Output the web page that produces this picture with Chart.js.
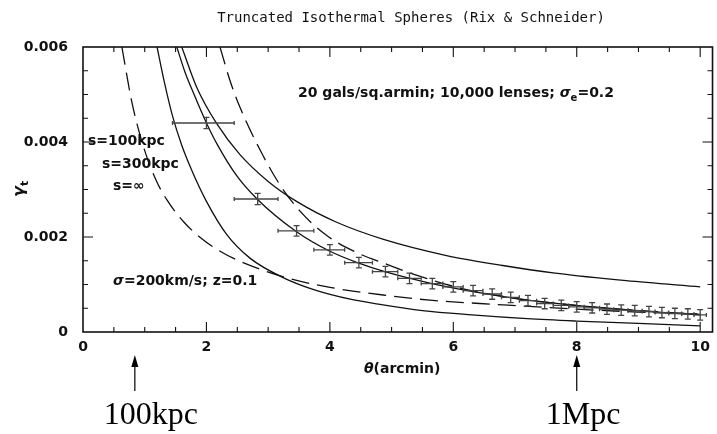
<!DOCTYPE html>
<html>
<head>
<meta charset="utf-8">
<script src="https://cdn.jsdelivr.net/npm/chart.js@4.4.0/dist/chart.umd.min.js"></script>
<style>
  body { margin: 0; background: #fff; }
  #wrap { width: 717px; height: 434px; }
</style>
</head>
<body>
<div id="wrap"><canvas id="shearChart" width="717" height="434"></canvas></div>
<script>
// binned tangential shear, theta in arcmin
const binTheta = [2.00, 2.83, 3.46, 4.00, 4.47, 4.90, 5.29, 5.66, 6.00, 6.32, 6.63, 6.93, 7.21,
                  7.48, 7.75, 8.00, 8.25, 8.49, 8.72, 8.94, 9.17, 9.38, 9.59, 9.80, 10.00];
const binLo = [1.45, 2.45, 3.16, 3.74, 4.24, 4.69, 5.10, 5.48, 5.83, 6.16, 6.48, 6.78, 7.07,
               7.35, 7.62, 7.87, 8.12, 8.37, 8.60, 8.83, 9.06, 9.27, 9.49, 9.70, 9.90];
const binHi = [2.45, 3.16, 3.74, 4.24, 4.69, 5.10, 5.48, 5.83, 6.16, 6.48, 6.78, 7.07, 7.35,
               7.62, 7.87, 8.12, 8.37, 8.60, 8.83, 9.06, 9.27, 9.49, 9.70, 9.90, 10.10];
const binGamma = [0.00440, 0.00280, 0.00213, 0.00173, 0.00146, 0.00127, 0.00113, 0.00102, 0.00095,
                  0.00087, 0.00080, 0.00073, 0.00066, 0.00060, 0.00056, 0.00053, 0.00051, 0.00048,
                  0.00046, 0.00045, 0.00043, 0.00041, 0.00039, 0.00038, 0.00036];
const binErr = [0.00012, 0.00012, 0.00011, 0.00011, 0.00011, 0.00011, 0.00011, 0.00011, 0.00011,
                0.00011, 0.00011, 0.00011, 0.00011, 0.00011, 0.00011, 0.00011, 0.00011, 0.00011,
                0.00011, 0.00011, 0.00011, 0.00011, 0.00011, 0.00011, 0.00011];

// model curves [theta, gamma]
const solidInf = [[1.60, 0.00600], [1.84, 0.00516], [2.17, 0.00438], [2.54, 0.00374], [3.00, 0.00317],
                  [3.46, 0.00275], [4.11, 0.00231], [4.87, 0.00195], [5.89, 0.00161], [6.80, 0.00140],
                  [7.65, 0.00124], [8.80, 0.00108], [10.00, 0.00095]];
const solid300 = [[1.52, 0.00600], [1.65, 0.00548], [1.79, 0.00503], [2.00, 0.00440], [2.17, 0.00396],
                  [2.49, 0.00329], [2.82, 0.00280], [3.46, 0.00211], [4.00, 0.00170], [4.47, 0.00145],
                  [4.89, 0.00127], [5.62, 0.00103], [6.32, 0.00085], [7.00, 0.00071], [7.75, 0.00059],
                  [8.50, 0.00050], [9.20, 0.00043], [10.00, 0.00036]];
const solid100 = [[1.20, 0.00600], [1.32, 0.00525], [1.45, 0.00455], [1.60, 0.00393], [1.76, 0.00341],
                  [2.00, 0.00275], [2.33, 0.00205], [2.71, 0.00155], [3.25, 0.00114], [3.79, 0.00087],
                  [4.33, 0.00069], [4.81, 0.00058], [5.50, 0.00045], [6.30, 0.00036], [7.20, 0.00028],
                  [8.00, 0.00023], [9.00, 0.00018], [10.00, 0.00013]];
const dashLow = [[0.63, 0.00600], [0.79, 0.00485], [0.98, 0.00390], [1.19, 0.00318], [1.36, 0.00278],
                 [1.63, 0.00232], [1.90, 0.00199], [2.17, 0.00174], [2.49, 0.00152], [3.25, 0.00116],
                 [4.00, 0.00094], [4.98, 0.00076], [5.62, 0.00067], [6.43, 0.00060], [7.08, 0.00055],
                 [8.00, 0.00048], [9.00, 0.00042], [10.00, 0.00038]];
const dashHigh = [[2.22, 0.00600], [2.38, 0.00530], [2.54, 0.00474], [2.87, 0.00383], [3.19, 0.00310],
                  [3.52, 0.00254], [3.95, 0.00203], [4.49, 0.00164], [4.89, 0.00144], [5.35, 0.00122],
                  [6.16, 0.00091], [7.00, 0.00071], [8.00, 0.00056], [9.00, 0.00045], [10.00, 0.00037]];

const xTicks = [0, 2, 4, 6, 8, 10];
const xTickLabels = ['0', '2', '4', '6', '8', '10'];
const yTicks = [0, 0.002, 0.004, 0.006];
const yTickLabels = ['0', '0.002', '0.004', '0.006'];

// physical scale markers below the axis
const scaleMarks = [{ text: '100kpc', theta: 0.84 }, { text: '1Mpc', theta: 8.0 }];

const INK = '#111';
const labelFont = '"DejaVu Sans", sans-serif';

function curve(points, dashed) {
  return {
    data: points.map(p => ({ x: p[0], y: p[1] })),
    showLine: true,
    borderColor: INK,
    borderWidth: 1.3,
    borderDash: dashed ? [18, 8] : [],
    pointRadius: 0,
    cubicInterpolationMode: 'monotone',
    fill: false
  };
}

// draws text pieces one after another (for sub/superscripts and italics)
function drawRuns(ctx, runs, x, y) {
  runs.forEach(r => {
    ctx.font = r.font;
    ctx.fillText(r.t, x, y + (r.dy || 0));
    x += ctx.measureText(r.t).width;
  });
}

const decorations = {
  id: 'decorations',
  afterDatasetsDraw(chart) {
    const { ctx, chartArea: a, scales: { x, y } } = chart;
    ctx.save();

    // error bars
    ctx.strokeStyle = '#444';
    ctx.lineWidth = 1.3;
    binTheta.forEach((t, i) => {
      const px = x.getPixelForValue(t);
      const py = y.getPixelForValue(binGamma[i]);
      const x0 = x.getPixelForValue(binLo[i]);
      const x1 = x.getPixelForValue(binHi[i]);
      const y0 = y.getPixelForValue(binGamma[i] - binErr[i]);
      const y1 = y.getPixelForValue(binGamma[i] + binErr[i]);
      ctx.beginPath();
      ctx.moveTo(x0, py); ctx.lineTo(x1, py);
      ctx.moveTo(x0, py - 2); ctx.lineTo(x0, py + 2);
      ctx.moveTo(x1, py - 2); ctx.lineTo(x1, py + 2);
      ctx.moveTo(px, y0); ctx.lineTo(px, y1);
      ctx.moveTo(px - 3, y0); ctx.lineTo(px + 3, y0);
      ctx.moveTo(px - 3, y1); ctx.lineTo(px + 3, y1);
      ctx.stroke();
    });

    // frame
    ctx.strokeStyle = INK;
    ctx.lineWidth = 1.6;
    ctx.strokeRect(a.left, a.top, a.right - a.left, a.bottom - a.top);

    // inward ticks, minor every 0.5 arcmin and 0.0005
    ctx.lineWidth = 1.1;
    ctx.beginPath();
    for (let k = 1; k * 0.5 < x.max; k++) {
      const px = x.getPixelForValue(k * 0.5);
      const len = k % 4 === 0 ? 10 : 5;
      ctx.moveTo(px, a.bottom); ctx.lineTo(px, a.bottom - len);
      ctx.moveTo(px, a.top); ctx.lineTo(px, a.top + len);
    }
    for (let k = 1; k < 12; k++) {
      const py = y.getPixelForValue(k * 0.0005);
      const len = k % 4 === 0 ? 10 : 5;
      ctx.moveTo(a.left, py); ctx.lineTo(a.left + len, py);
      ctx.moveTo(a.right, py); ctx.lineTo(a.right - len, py);
    }
    ctx.stroke();
    ctx.restore();
  },
  afterDraw(chart) {
    const { ctx, scales: { x } } = chart;
    ctx.save();
    ctx.fillStyle = INK;

    ctx.textAlign = 'center';
    ctx.textBaseline = 'middle';
    ctx.font = '14px "DejaVu Sans Mono", monospace';
    ctx.fillText('Truncated Isothermal Spheres (Rix & Schneider)', 411, 18);

    ctx.textAlign = 'left';
    ctx.textBaseline = 'alphabetic';
    const f = 'bold 14px ' + labelFont;
    const fi = 'italic bold 14px ' + labelFont;
    const fs = 'bold 10px ' + labelFont;
    drawRuns(ctx, [{ t: '20 gals/sq.armin; 10,000 lenses; ', font: f }, { t: 'σ', font: fi },
                   { t: 'e', font: fs, dy: 4 }, { t: '=0.2', font: f }], 298, 97);
    drawRuns(ctx, [{ t: 's=100kpc', font: f }], 88, 145);
    drawRuns(ctx, [{ t: 's=300kpc', font: f }], 102, 168);
    drawRuns(ctx, [{ t: 's=∞', font: f }], 113, 190);
    drawRuns(ctx, [{ t: 'σ', font: fi }, { t: '=200km/s; z=0.1', font: f }], 113, 285);

    // axis titles
    drawRuns(ctx, [{ t: 'θ', font: fi }, { t: '(arcmin)', font: f }], 364, 373);
    ctx.translate(24, 197);
    ctx.rotate(-Math.PI / 2);
    drawRuns(ctx, [{ t: 'γ', font: 'italic bold 16px ' + labelFont }, { t: 't', font: 'bold 11px ' + labelFont, dy: 4 }], 0, 0);
    ctx.setTransform(1, 0, 0, 1, 0, 0);

    // scale arrows
    ctx.strokeStyle = '#000';
    ctx.fillStyle = '#000';
    ctx.lineWidth = 1.2;
    scaleMarks.forEach(m => {
      const px = x.getPixelForValue(m.theta);
      ctx.beginPath();
      ctx.moveTo(px, 391); ctx.lineTo(px, 364);
      ctx.stroke();
      ctx.beginPath();
      ctx.moveTo(px, 355); ctx.lineTo(px - 3.5, 367); ctx.lineTo(px + 3.5, 367);
      ctx.closePath();
      ctx.fill();
      ctx.font = '32px "Liberation Serif", serif';
      ctx.fillText(m.text, px - 31, 424);
    });
    ctx.restore();
  }
};

new Chart(document.getElementById('shearChart'), {
  type: 'scatter',
  data: {
    datasets: [
      curve(solidInf, false),
      curve(solid300, false),
      curve(solid100, false),
      curve(dashLow, true),
      curve(dashHigh, true),
      { data: binTheta.map((t, i) => ({ x: t, y: binGamma[i] })), pointRadius: 0 }
    ]
  },
  options: {
    responsive: false,
    animation: false,
    layout: { padding: { top: 47, right: 4 } },
    plugins: { legend: { display: false }, tooltip: { enabled: false } },
    scales: {
      x: {
        type: 'linear',
        min: 0,
        max: 10.2,
        afterFit: s => { s.height = 102; },
        afterBuildTicks: s => { s.ticks = xTicks.map(v => ({ value: v })); },
        grid: { display: false, drawTicks: false },
        border: { display: false },
        ticks: {
          padding: 7,
          maxRotation: 0,
          color: INK,
          font: { family: labelFont, size: 14, weight: 'bold' },
          callback: (v, i) => xTickLabels[i]
        }
      },
      y: {
        type: 'linear',
        min: 0,
        max: 0.006,
        afterFit: s => { s.width = 83; },
        afterBuildTicks: s => { s.ticks = yTicks.map(v => ({ value: v })); },
        grid: { display: false, drawTicks: false },
        border: { display: false },
        ticks: {
          padding: 15,
          color: INK,
          font: { family: labelFont, size: 14, weight: 'bold' },
          callback: (v, i) => yTickLabels[i]
        }
      }
    }
  },
  plugins: [decorations]
});
</script>
</body>
</html>
